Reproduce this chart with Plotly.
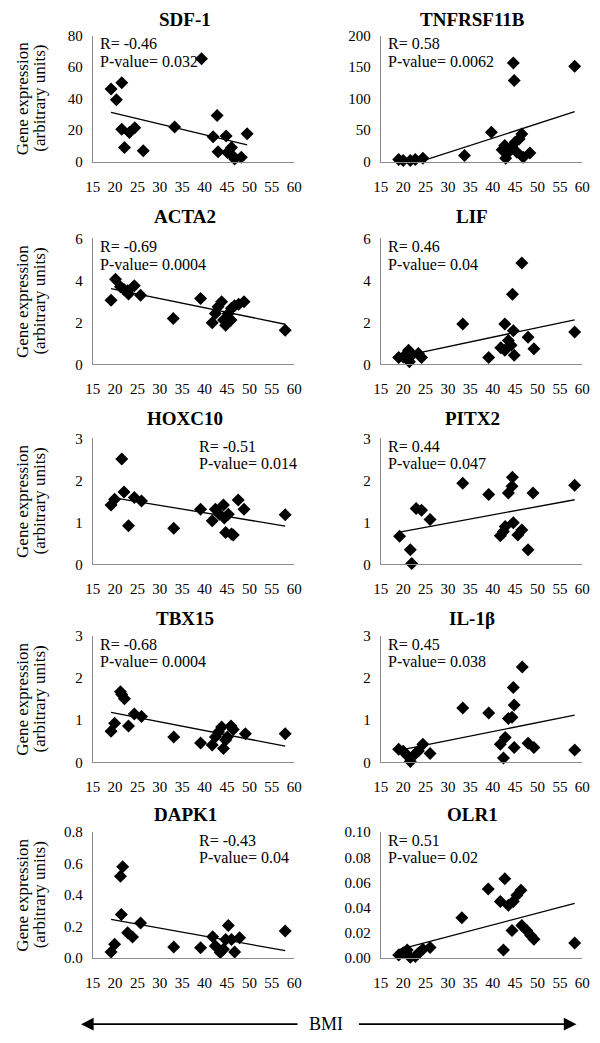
# Gene expression vs BMI - 10 scatter panels with linear trend lines
import numpy as np
import plotly.graph_objects as go

genes = ["SDF-1", "TNFRSF11B", "ACTA2", "LIF", "HOXC10", "PITX2", "TBX15", "IL-1β", "DAPK1", "OLR1"]
r_values = ["-0.46", "0.58", "-0.69", "0.46", "-0.51", "0.44", "-0.68", "0.45", "-0.43", "0.51"]
p_values = ["0.032", "0.0062", "0.0004", "0.04", "0.014", "0.047", "0.0004", "0.038", "0.04", "0.02"]
y_max = [80, 200, 6, 6, 3, 3, 3, 3, 0.8, 0.10]
y_step = [20, 50, 2, 2, 1, 1, 1, 1, 0.2, 0.02]
x_ticks = [15, 20, 25, 30, 35, 40, 45, 50, 55, 60]

# values (BMI, expression)
sdf1_bmi = [19.1, 20.3, 21.5, 21.5, 22.1, 23.2, 24.4, 26.3, 33.3, 39.3, 41.9, 42.8, 43.0, 44.8, 45.1, 46.0, 46.2, 46.7, 48.2, 49.5]
sdf1_expr = [46.1, 39.2, 50.1, 20.5, 9.0, 18.4, 21.5, 6.9, 21.9, 65.3, 15.7, 29.2, 6.3, 16.3, 5.8, 9.0, 3.8, 1.7, 2.7, 17.7]

tnf_bmi = [19.0, 20.0, 21.6, 22.7, 24.4, 33.7, 39.7, 42.1, 42.7, 42.9, 43.5, 44.3, 44.6, 44.8, 45.0, 45.4, 45.9, 46.5, 46.8, 48.3, 58.3]
tnf_expr = [3.2, 1.6, 1.6, 3.2, 5.3, 9.5, 46.6, 19.0, 25.4, 5.3, 14.8, 22.8, 156.6, 128.6, 30.7, 14.8, 36.0, 43.9, 6.9, 13.8, 151.3]

acta2_bmi = [19.1, 20.1, 21.2, 22.0, 22.8, 23.0, 24.3, 25.7, 33.0, 39.1, 41.7, 42.4, 43.0, 43.8, 44.2, 44.7, 45.3, 45.9, 46.0, 46.7, 47.6, 48.8, 58.0]
acta2_expr = [3.06, 4.05, 3.70, 3.57, 3.51, 3.35, 3.75, 3.30, 2.19, 3.14, 1.98, 2.43, 2.75, 2.98, 2.11, 1.87, 2.43, 2.11, 2.67, 2.79, 2.86, 2.98, 1.63]

lif_bmi = [19.0, 20.0, 21.2, 21.4, 21.9, 23.4, 24.1, 33.3, 39.1, 41.8, 42.7, 42.7, 43.5, 44.1, 44.4, 44.6, 44.8, 46.5, 47.9, 49.2, 58.3]
lif_expr = [0.33, 0.36, 0.67, 0.13, 0.44, 0.52, 0.33, 1.93, 0.33, 0.80, 0.67, 1.93, 1.14, 0.91, 3.34, 1.61, 0.44, 4.83, 1.30, 0.75, 1.54]

hoxc10_bmi = [19.1, 19.9, 21.5, 22.0, 23.0, 24.3, 25.9, 33.1, 39.1, 41.7, 42.4, 43.3, 44.2, 44.4, 44.7, 45.3, 46.0, 46.4, 47.5, 48.8, 58.0]
hoxc10_expr = [1.41, 1.55, 2.51, 1.72, 0.92, 1.59, 1.51, 0.86, 1.31, 1.04, 1.31, 1.19, 1.41, 1.10, 0.76, 1.19, 0.72, 0.70, 1.53, 1.31, 1.18]

pitx2_bmi = [19.2, 21.6, 21.9, 22.9, 24.1, 26.0, 33.3, 39.1, 41.7, 42.4, 42.8, 43.5, 44.3, 44.4, 44.6, 45.6, 46.5, 47.9, 49.0, 58.3]
pitx2_expr = [0.67, 0.35, 0.02, 1.33, 1.29, 1.07, 1.93, 1.66, 0.68, 0.78, 0.90, 1.70, 1.86, 2.07, 0.99, 0.70, 0.82, 0.35, 1.70, 1.88]

tbx15_bmi = [19.1, 19.9, 21.2, 21.5, 22.1, 23.0, 24.3, 25.9, 33.1, 39.1, 41.7, 42.4, 43.1, 43.8, 44.2, 44.7, 45.1, 45.9, 46.4, 49.1, 58.0]
tbx15_expr = [0.74, 0.93, 1.68, 1.61, 1.51, 0.86, 1.15, 1.09, 0.60, 0.46, 0.41, 0.60, 0.72, 0.84, 0.33, 0.53, 0.60, 0.86, 0.78, 0.68, 0.68]

il1b_bmi = [19.0, 20.0, 20.9, 21.6, 22.7, 23.4, 24.4, 26.0, 33.3, 39.1, 41.7, 42.4, 42.8, 43.5, 44.3, 44.6, 44.8, 44.8, 46.6, 47.9, 49.2, 58.3]
il1b_expr = [0.31, 0.26, 0.16, 0.02, 0.20, 0.27, 0.43, 0.21, 1.29, 1.17, 0.43, 0.10, 0.59, 1.04, 1.07, 1.78, 1.36, 0.35, 2.27, 0.45, 0.35, 0.29]

dapk1_bmi = [19.1, 19.9, 21.2, 21.4, 21.7, 22.8, 23.9, 25.7, 33.1, 39.1, 41.8, 42.4, 43.5, 44.2, 44.7, 45.3, 46.0, 46.7, 47.8, 58.0]
dapk1_expr = [0.040, 0.088, 0.52, 0.277, 0.58, 0.161, 0.134, 0.224, 0.071, 0.067, 0.136, 0.078, 0.036, 0.057, 0.119, 0.207, 0.119, 0.040, 0.13, 0.172]

olr1_bmi = [19.0, 20.0, 20.9, 21.6, 22.7, 23.4, 24.4, 26.0, 33.1, 39.0, 41.7, 42.4, 42.7, 43.5, 44.3, 44.6, 45.4, 46.3, 46.5, 47.6, 48.5, 49.2, 58.3]
olr1_expr = [0.0026, 0.0044, 0.0065, 0.0008, 0.0013, 0.0039, 0.0070, 0.0085, 0.032, 0.055, 0.045, 0.0065, 0.063, 0.042, 0.022, 0.045, 0.050, 0.054, 0.026, 0.022, 0.018, 0.015, 0.012]

bmi_all = [sdf1_bmi, tnf_bmi, acta2_bmi, lif_bmi, hoxc10_bmi, pitx2_bmi, tbx15_bmi, il1b_bmi, dapk1_bmi, olr1_bmi]
expr_all = [sdf1_expr, tnf_expr, acta2_expr, lif_expr, hoxc10_expr, pitx2_expr, tbx15_expr, il1b_expr, dapk1_expr, olr1_expr]

# page geometry (pixels)
W, H = 600, 1043
FONT = "'Liberation Serif', 'Times New Roman', Times, serif"
col_left = [87, 383]
plot_w = 207
row_top = [28, 234, 437, 638, 837]
plot_h = 128
title_x = [182, 477]
title_y = [12, 212, 417, 620, 819]
stat_right = ["HOXC10", "DAPK1"]  # stats text placed mid-panel


def fx(p):
  return p / W


def fy(p):
  return 1 - p / H


fig = go.Figure()
anns = []
axes = {}
for i, g in enumerate(genes):
  row, col = divmod(i, 2)
  n = i + 1
  sfx = "" if n == 1 else str(n)
  bmi = np.array(bmi_all[i])
  expr = np.array(expr_all[i])

  fig.add_trace(go.Scatter(x=bmi, y=expr, mode="markers",
                           marker=dict(symbol="diamond", size=10, color="black"),
                           cliponaxis=False, xaxis="x" + sfx, yaxis="y" + sfx,
                           showlegend=False, hoverinfo="skip"))
  # linear trendline like excel
  k, b = np.polyfit(bmi, expr, 1)
  xs = np.array([bmi.min(), bmi.max()])
  fig.add_trace(go.Scatter(x=xs, y=k * xs + b, mode="lines",
                           line=dict(color="black", width=1.3),
                           xaxis="x" + sfx, yaxis="y" + sfx,
                           showlegend=False, hoverinfo="skip"))

  left = col_left[col]
  top = row_top[row]
  fmt = ".2f" if y_max[i] < 0.5 else (".1f" if y_max[i] < 1 else "")
  axes["xaxis" + sfx] = dict(domain=[fx(left), fx(left + plot_w)], anchor="y" + sfx,
                             range=[15, 60], tickvals=x_ticks, showline=True,
                             linecolor="#8c8c8c", linewidth=1, showgrid=False,
                             zeroline=False, ticks="", ticklabelstandoff=11,
                             tickfont=dict(family=FONT, size=15, color="black"))
  axes["yaxis" + sfx] = dict(domain=[fy(top + plot_h), fy(top)], anchor="x" + sfx,
                             range=[0, y_max[i]], tick0=0, dtick=y_step[i],
                             tickformat=fmt, showline=True, linecolor="#8c8c8c",
                             linewidth=1, showgrid=False, zeroline=False, ticks="",
                             ticklabelstandoff=6,
                             tickfont=dict(family=FONT, size=15, color="black"))

  anns.append(dict(text="<b>" + g + "</b>", x=fx(title_x[col]), y=fy(title_y[row]),
                   xref="paper", yref="paper", showarrow=False,
                   xanchor="center", yanchor="middle",
                   font=dict(family=FONT, size=19, color="black")))
  sx = left + (107 if g in stat_right else 5)
  for j, line in enumerate(["R= " + r_values[i], "P-value= " + p_values[i]]):
    anns.append(dict(text=line, x=fx(sx), y=fy(top + 8 + 18 * j),
                     xref="paper", yref="paper", showarrow=False,
                     xanchor="left", yanchor="middle",
                     font=dict(family=FONT, size=16, color="black")))
  if col == 0:
    for j, t in enumerate(["Gene expression", "(arbitrary units)"]):
      anns.append(dict(text=t, x=fx(15 + 17 * j), y=fy(top + plot_h / 2),
                       xref="paper", yref="paper", showarrow=False, textangle=-90,
                       xanchor="center", yanchor="middle",
                       font=dict(family=FONT, size=17, color="black")))

# BMI arrows at the bottom
ay_px = 1032
anns.append(dict(text="", x=fx(75), y=fy(ay_px), xref="paper", yref="paper",
                 showarrow=True, ax=218, ay=0, arrowhead=2, arrowsize=1.4,
                 arrowwidth=1.8, arrowcolor="black"))
anns.append(dict(text="", x=fx(584), y=fy(ay_px), xref="paper", yref="paper",
                 showarrow=True, ax=-219, ay=0, arrowhead=2, arrowsize=1.4,
                 arrowwidth=1.8, arrowcolor="black"))
anns.append(dict(text="BMI", x=fx(327), y=fy(1032), xref="paper", yref="paper",
                 showarrow=False, xanchor="center", yanchor="middle",
                 font=dict(family=FONT, size=18, color="black")))

fig.update_layout(width=W, height=H, margin=dict(l=0, r=0, t=0, b=0),
                  paper_bgcolor="white", plot_bgcolor="white",
                  font=dict(family=FONT, color="black"),
                  annotations=anns, **axes)

# page has a default body margin, drop it so the figure fills the window
fig.write_html("out.html", config={"displayModeBar": False},
               post_script="document.body.style.margin='0';document.body.style.overflow='hidden';")
